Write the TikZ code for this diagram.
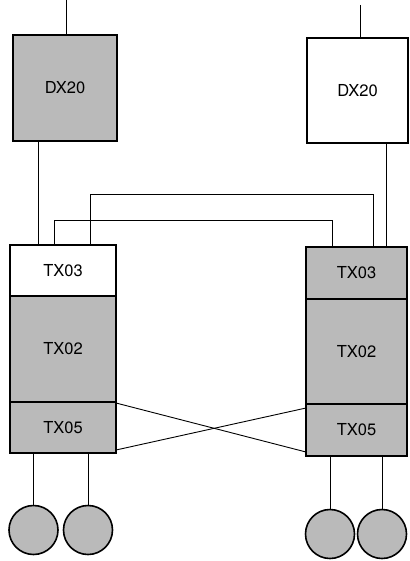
\documentclass[tikz,border=0pt]{standalone}
\usepackage{fontspec}
\setmainfont{TeX Gyre Heros}
\begin{document}
\begin{tikzpicture}[x=1pt,y=-1pt,
  box/.style={draw=black,line width=1.1pt,inner sep=0pt,font=\fontsize{16.5}{18}\selectfont},
  shaded/.style={box,fill=black!27},
  plain/.style={box,fill=white},
  wire/.style={line width=0.9pt},
  disc/.style={circle,draw=black,line width=1.6pt,fill=black!27,minimum size=49pt,inner sep=0pt}]
\useasboundingbox (0,0) rectangle (409,561);
% DX20 boxes
\node[shaded,minimum width=104pt,minimum height=106pt] (dxL) at (65,88) {DX20};
\node[plain,minimum width=101pt,minimum height=105pt] (dxR) at (357.5,90.5) {DX20};
% left stack
\node[plain,minimum width=106pt,minimum height=51pt] (l3) at (63,270.5) {TX03};
\node[shaded,minimum width=106pt,minimum height=106pt] (l2) at (63,349) {TX02};
\node[shaded,minimum width=106pt,minimum height=51pt] (l5) at (63,427.5) {TX05};
% right stack
\node[shaded,minimum width=101pt,minimum height=52pt] (r3) at (356.5,273) {TX03};
\node[shaded,minimum width=101pt,minimum height=105pt] (r2) at (356.5,351.5) {TX02};
\node[shaded,minimum width=101pt,minimum height=52pt] (r5) at (356.5,430) {TX05};
% discs
\node[disc] (c1) at (33.5,530) {};
\node[disc] (c2) at (88,530) {};
\node[disc] (c3) at (330,534) {};
\node[disc] (c4) at (382,534) {};
% helper coordinates
\coordinate (topL) at (66,0);
\coordinate (topR) at (360,5);
\coordinate (xa) at (38,0);
\coordinate (xb) at (54,0);
\coordinate (xc) at (90,0);
\coordinate (xd) at (332,0);
\coordinate (xe) at (373,0);
\coordinate (xf) at (386,0);
\coordinate (ya) at (0,194);
\coordinate (yb) at (0,220);
\coordinate (la) at (116,403);
\coordinate (lb) at (116,450);
\coordinate (ra) at (306,452);
\coordinate (rb) at (306,408);
% top feeds
\draw[wire] (topL) -- (topL |- dxL.north);
\draw[wire] (topR) -- (topR |- dxR.north);
% DX20 to TX03
\draw[wire] (xa |- dxL.south) -- (xa |- l3.north);
\draw[wire] (xf |- dxR.south) -- (xf |- r3.north);
% loops
\draw[wire] (xc |- l3.north) -- (xc |- ya) -- (xe |- ya) -- (xe |- r3.north);
\draw[wire] (xb |- l3.north) -- (xb |- yb) -- (xd |- yb) -- (xd |- r3.north);
% cross links
\draw[wire] (la) -- (ra);
\draw[wire] (lb) -- (rb);
% disc feeds
\draw[wire] (c1 |- l5.south) -- (c1.north);
\draw[wire] (c2 |- l5.south) -- (c2.north);
\draw[wire] (c3 |- r5.south) -- (c3.north);
\draw[wire] (c4 |- r5.south) -- (c4.north);
\end{tikzpicture}
\end{document}
